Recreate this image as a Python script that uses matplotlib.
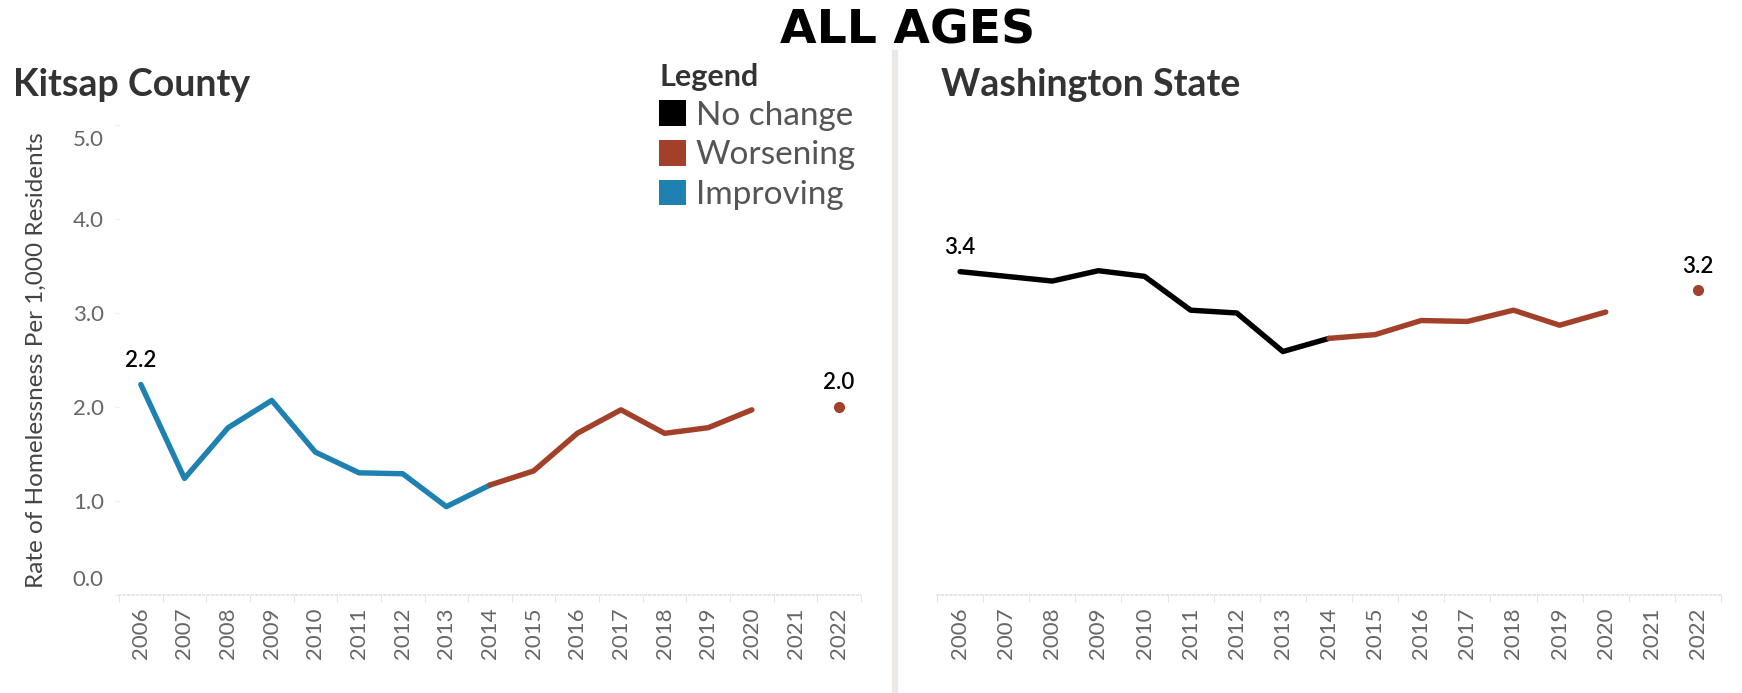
import matplotlib.pyplot as plt
import matplotlib.transforms as mtransforms
from matplotlib.patches import Patch

years = [str(y) for y in range(2006, 2023)]

# Kitsap County, rate per 1,000 residents (2021 missing)
kitsap = [2.24, 1.24, 1.78, 2.07, 1.52, 1.30, 1.29, 0.94, 1.17,
          1.32, 1.72, 1.97, 1.72, 1.78, 1.97, None, 2.00]
# Washington State
wa = [3.44, 3.39, 3.34, 3.45, 3.39, 3.03, 3.00, 2.59, 2.73,
      2.77, 2.92, 2.91, 3.03, 2.87, 3.01, None, 3.24]

# trend status of each segment: (start index, end index, status)
kitsap_trend = [(0, 8, "Improving"), (8, 14, "Worsening")]
wa_trend = [(0, 8, "No change"), (8, 14, "Worsening")]
last_status = "Worsening"

colors = {"No change": "#000000", "Worsening": "#a2402a", "Improving": "#1f80b2"}
legend_order = ["No change", "Worsening", "Improving"]
yticks = [0, 1, 2, 3, 4, 5]

plt.rcParams['font.family'] = ['Lato', 'DejaVu Sans']

W, H = 1742, 693
fig = plt.figure(figsize=(W / 100, H / 100), dpi=100)


def px_rect(x0, x1, ytop, ybot):
    return [x0 / W, 1 - ybot / H, (x1 - x0) / W, (ybot - ytop) / H]


ax1 = fig.add_axes(px_rect(119, 861, 125, 595))
ax2 = fig.add_axes(px_rect(937, 1721, 125, 595))

for ax, vals, trend in [(ax1, kitsap, kitsap_trend), (ax2, wa, wa_trend)]:
    x = list(range(len(years)))
    for i0, i1, status in trend:
        ax.plot(x[i0:i1 + 1], vals[i0:i1 + 1], color=colors[status], lw=3.9,
                solid_capstyle='round', solid_joinstyle='round')
    ax.plot(x[-1], vals[-1], 'o', color=colors[last_status], ms=7)
    for i in (0, len(vals) - 1):
        ax.annotate(f"{vals[i]:.1f}", (x[i], vals[i]), xytext=(0, 10),
                    textcoords='offset points', ha='center', va='bottom',
                    fontsize=16, color='black', fontweight='semibold')
    ax.set_xlim(-0.5, len(years) - 0.5)
    ax.set_ylim(0, 5)
    ax.set_xticks(x)
    ax.set_xticklabels(years, rotation=90, fontsize=16, color='#666666')
    ax.set_xticks([i + 0.5 for i in range(-1, len(years))], minor=True)
    ax.tick_params(axis='x', which='major', length=0, pad=9)
    ax.tick_params(axis='x', which='minor', length=5, color='#e2e2e2', direction='out')
    for s in ['top', 'right', 'left']:
        ax.spines[s].set_visible(False)
    ax.spines['bottom'].set_color('#e2e2e2')
    ax.spines['bottom'].set_linestyle(':')
    ax.spines['bottom'].set_linewidth(1.2)

ax1.set_yticks(yticks)
ax1.set_yticklabels([f"{v:.1f}" for v in yticks], fontsize=16, color='#666666')
ax1.tick_params(axis='y', length=3, color='#eeeeee', pad=8)
# Tableau pulls the end labels inside the pane
labs = ax1.get_yticklabels()
labs[0].set_transform(labs[0].get_transform() +
                      mtransforms.ScaledTranslation(0, 17 / 100, fig.dpi_scale_trans))
labs[-1].set_transform(labs[-1].get_transform() +
                       mtransforms.ScaledTranslation(0, -13 / 100, fig.dpi_scale_trans))
ax1.set_ylabel("Rate of Homelessness Per 1,000 Residents", fontsize=17.5, color='#444444')
ax1.yaxis.set_label_coords(-0.097, 0.5)

ax2.set_yticks([])

# panel titles and main title
fig.text(13 / W, 1 - 96 / H, "Kitsap County", fontsize=27, fontweight='bold',
         color='#333333', va='baseline')
fig.text(941 / W, 1 - 96 / H, "Washington State", fontsize=27, fontweight='bold',
         color='#333333', va='baseline')
fig.text(908 / W, 1 - 44 / H, "ALL AGES", fontsize=34, fontweight='bold',
         family='DejaVu Sans', ha='center', va='baseline')

# divider between the two panels
fig.add_artist(plt.Line2D([895 / W, 895 / W], [0, 1 - 53 / H], color='#ece8e5', lw=4.5))

handles = [Patch(facecolor=colors[k], edgecolor='none') for k in legend_order]
leg = fig.legend(handles, legend_order, title="Legend", loc='upper left',
                 bbox_to_anchor=(659 / W, 1 - 63 / H), frameon=False,
                 fontsize=24, handlelength=0.8, handleheight=0.8,
                 handletextpad=0.3, labelspacing=0.28, borderpad=0,
                 borderaxespad=0, alignment='left',
                 title_fontproperties={'weight': 'bold', 'size': 22})
leg.get_title().set_color('#333333')
for t in leg.get_texts():
    t.set_color('#555555')

fig.savefig("out.png", dpi=100)
